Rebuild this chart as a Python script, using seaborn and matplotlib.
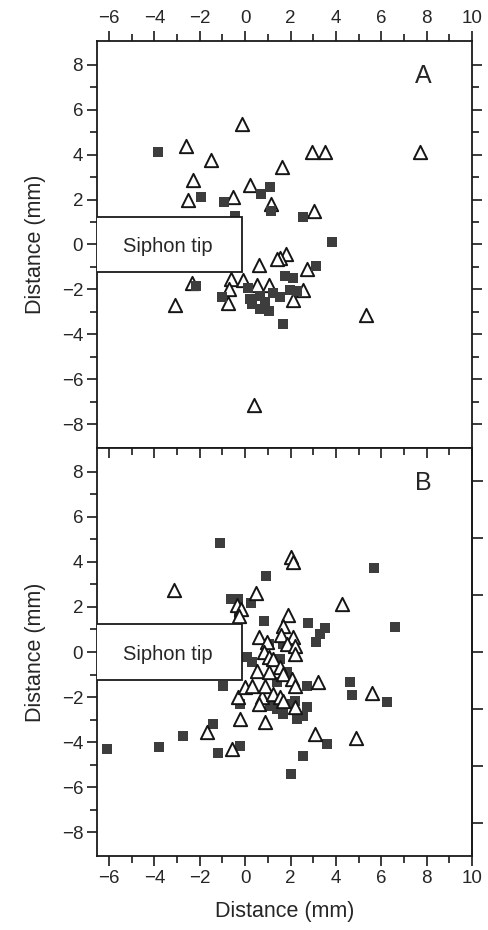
import pandas as pd
import matplotlib
matplotlib.use("Agg")
import matplotlib.pyplot as plt
import matplotlib.lines as mlines
import seaborn as sns

# values (mm)
a_sq_x = [-3.85, -1.94, -0.94, 0.70, 1.10, 1.13, -0.43, 2.54, 3.85, 3.12, 1.76, 2.09,
          -2.16, -1.03, 0.12, 1.98, 2.28, 0.66, 1.25, 1.54, 0.22, 0.29, 0.66, 1.03, 0.88, 1.66]
a_sq_y = [4.10, 2.13, 1.91, 2.24, 2.55, 1.51, 1.26, 1.24, 0.10, -0.96, -1.38, -1.47,
          -1.85, -2.34, -1.93, -2.04, -2.08, -2.27, -2.16, -2.34, -2.41, -2.64, -2.86, -2.97, -2.56, -3.55]

a_tri_x = [-0.15, -2.60, -1.51, 2.94, 3.50, 7.69, 1.62, -2.28, 0.23, -2.53, -0.52, 1.13, 3.04,
           1.81, 1.54, 1.40, 0.62, 2.72, -2.35, -0.63, -0.08, -0.69, -0.74, 0.54, 1.03, 2.54,
           2.09, -3.09, 5.32, 0.37]
a_tri_y = [5.37, 4.36, 3.76, 4.10, 4.10, 4.10, 3.44, 2.88, 2.65, 1.99, 2.13, 1.81, 1.47,
           -0.41, -0.59, -0.64, -0.89, -1.11, -1.72, -1.54, -1.56, -1.97, -2.61, -1.82, -1.78, -2.04,
           -2.49, -2.71, -3.12, -7.12]

b_sq_x = [-1.10, 5.70, 0.93, -0.63, -0.30, 0.28, 0.81, 2.79, 3.53, 3.31, 3.13, 6.62, -0.25,
          1.69, 1.03, 0.29, 0.07, -0.96, 4.63, 4.70, 2.72, 1.40, 1.84, 1.54, -0.22, 1.10, 1.40,
          1.69, 2.06, 2.20, 2.72, 2.57, 2.28, 6.25, -1.40, -2.72, 3.60, -0.22, -1.18, 2.57,
          2.00, -6.10, -3.80]
b_sq_y = [4.85, 3.73, 3.35, 2.36, 2.36, 2.18, 1.39, 1.29, 1.05, 0.80, 0.43, 1.12, 1.50,
          0.36, 0.36, -0.46, -0.24, -1.50, -1.32, -1.90, -1.50, -1.35, -0.90, -0.31, -2.31, -2.39, -2.53,
          -2.76, -2.31, -2.16, -2.46, -2.83, -2.98, -2.20, -3.20, -3.72, -4.09, -4.16, -4.46, -4.61,
          -5.40, -4.30, -4.20]

b_tri_x = [-3.12, 2.01, 2.10, 0.48, -0.37, -0.19, -0.25, 4.29, 1.91, 1.69, 1.57, 2.10, 0.63,
           0.95, 1.84, 2.20, 2.20, 0.81, 1.03, 1.25, 0.52, 1.03, 1.54, 1.69, 2.06, 2.20, 3.19,
           -0.30, 0.00, 0.29, 0.74, 0.59, 0.88, 1.25, 1.54, 1.69, 2.20, -0.22, 0.88, -1.66,
           3.09, -0.59, 4.90, 5.60]
b_tri_y = [2.76, 4.21, 3.99, 2.61, 2.09, 1.91, 1.59, 2.13, 1.64, 1.17, 0.76, 0.65, 0.65,
           0.43, 0.36, 0.28, -0.09, -0.01, -0.24, -0.31, -0.83, -0.90, -0.68, -0.98, -1.20, -1.50, -1.32,
           -2.01, -1.57, -1.50, -2.01, -2.31, -1.50, -1.87, -2.01, -2.16, -2.46, -2.98, -3.12, -3.57,
           -3.64, -4.31, -3.80, -1.80]

panel_labels = ["A", "B"]
right_ticks_b = [-7.6, -5.07, -2.53, 0, 2.53, 5.07, 7.6]

sns.set_style("ticks")
plt.rcParams['font.family'] = ['Liberation Sans', 'DejaVu Sans']

fig = plt.figure(figsize=(4.89, 9.30), dpi=100)
W, H = 489, 930
axA = fig.add_axes([97 / W, 1 - 448 / H, 375 / W, 407 / H])
axB = fig.add_axes([97 / W, 1 - 856 / H, 375 / W, 408 / H])

sq_color = "#3d3d3d"
ink = "#1a1a1a"


def draw(ax, sx, sy, tx, ty, squares_first):
    sq = pd.DataFrame({"x": sx, "y": sy})
    tr = pd.DataFrame({"x": tx, "y": ty})

    def squares(z):
        sns.scatterplot(data=sq, x="x", y="y", marker="s", s=48, color=sq_color,
                        linewidth=0, ax=ax, zorder=z)

    def triangles(z):
        sns.scatterplot(data=tr, x="x", y="y", marker="^", s=92, facecolor="white",
                        edgecolor="#151515", linewidth=1.4, ax=ax, zorder=z)

    if squares_first:
        squares(3)
        triangles(4)
    else:
        triangles(3)
        squares(4)


draw(axA, a_sq_x, a_sq_y, a_tri_x, a_tri_y, squares_first=False)
draw(axB, b_sq_x, b_sq_y, b_tri_x, b_tri_y, squares_first=True)

for ax, lab in zip([axA, axB], panel_labels):
    ax.set_xlim(-6.53, 10.0)
    ax.set_ylim(-9.05, 9.05)
    ax.set_xticks(range(-6, 11, 2))
    ax.set_xticks(range(-6, 11, 1), minor=True)
    ax.set_yticks(range(-8, 9, 2))
    ax.set_yticks(range(-8, 9, 1), minor=True)
    for sp in ax.spines.values():
        sp.set_visible(True)
        sp.set_linewidth(1.3)
        sp.set_color(ink)
    ax.tick_params(which="major", length=7, width=1.2, labelsize=13.5, color=ink, pad=3)
    ax.tick_params(which="minor", length=5, width=1.2, color=ink)
    ax.set_ylabel("Distance (mm)", fontsize=15.5, labelpad=11)
    ax.set_xlabel("")
    ax.text(7.85, 7.5, lab, fontsize=18, ha="center", va="center")
    # siphon tip box
    ax.add_patch(plt.Rectangle((-6.6, -1.22), 6.45, 2.44, facecolor="white",
                               edgecolor=ink, linewidth=1.3, zorder=5))
    ax.text(-3.4, -0.1, "Siphon tip", fontsize=14.5, ha="center", va="center", zorder=6)

# panel A: labels on top, ticks on left/right
axA.tick_params(axis="x", which="both", top=True, bottom=False, labeltop=True,
                labelbottom=False, direction="out")
axA.tick_params(axis="y", which="both", left=True, right=True, direction="out")

# panel B: labels at the bottom, ticks along the shared edge point down into it
axB.tick_params(axis="x", which="both", top=True, bottom=True, labelbottom=True,
                direction="out")
axB.tick_params(axis="y", which="both", left=True, right=False, direction="out")
axB.set_xlabel("Distance (mm)", fontsize=15.5, labelpad=10)
secB = axB.secondary_yaxis("right")
secB.set_yticks(right_ticks_b)
secB.tick_params(length=8, width=1.2, labelright=False, color=ink)
secB.spines["right"].set_linewidth(1.3)

fig.canvas.draw()
for line in axB.xaxis.get_majorticklines()[1::2] + axB.xaxis.get_minorticklines()[1::2]:
    line.set_marker(mlines.TICKDOWN)

fig.savefig("out.png", dpi=100)
